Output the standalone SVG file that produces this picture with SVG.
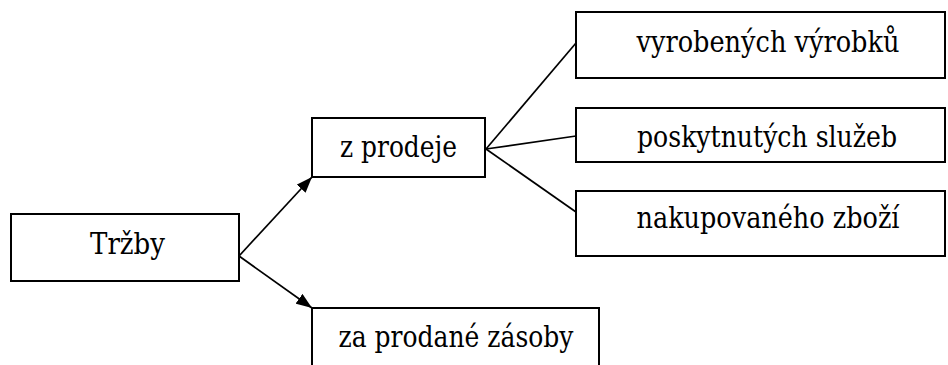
<svg xmlns="http://www.w3.org/2000/svg" width="948" height="365" viewBox="0 0 948 365">
<defs>
<style>
.box{fill:#fff;stroke:#000;stroke-width:2}
.lbl{font-family:'DejaVu Serif','Liberation Serif',serif;font-size:29px;fill:#000;text-anchor:middle}
.con{stroke:#000;stroke-width:1.7;fill:none}
</style>
<marker id="arr" viewBox="0 0 16 12" refX="16" refY="6" markerWidth="16" markerHeight="12" markerUnits="userSpaceOnUse" orient="auto">
<path d="M0,0 L16,6 L0,12 Z" fill="#000"/>
</marker>
</defs>
<rect width="948" height="365" fill="#fff"/>
<g id="connectors">
<line class="con" x1="239" y1="256" x2="312" y2="177" marker-end="url(#arr)"/>
<line class="con" x1="239" y1="256" x2="312" y2="308" marker-end="url(#arr)"/>
<line class="con" x1="486" y1="149" x2="576" y2="43"/>
<line class="con" x1="486" y1="149" x2="576" y2="136"/>
<line class="con" x1="486" y1="149" x2="576" y2="212"/>
</g>
<g id="trzby">
<rect class="box" x="11" y="214" width="228" height="67"/>
<text class="lbl" x="127.5" y="254" textLength="75" lengthAdjust="spacingAndGlyphs">Tržby</text>
</g>
<g id="z-prodeje">
<rect class="box" x="312" y="118" width="173" height="59"/>
<text class="lbl" x="398.5" y="157" textLength="117" lengthAdjust="spacingAndGlyphs">z prodeje</text>
</g>
<g id="za-prodane-zasoby">
<rect class="box" x="312" y="308" width="287" height="70"/>
<text class="lbl" x="456" y="347" textLength="235" lengthAdjust="spacingAndGlyphs">za prodané zásoby</text>
</g>
<g id="vyrobenych-vyrobku">
<rect class="box" x="576" y="12" width="369" height="66"/>
<text class="lbl" x="768" y="52" textLength="263" lengthAdjust="spacingAndGlyphs">vyrobených výrobků</text>
</g>
<g id="poskytnutych-sluzeb">
<rect class="box" x="576" y="108" width="369" height="54"/>
<text class="lbl" x="767" y="147" textLength="260" lengthAdjust="spacingAndGlyphs">poskytnutých služeb</text>
</g>
<g id="nakupovaneho-zbozi">
<rect class="box" x="576" y="191" width="369" height="65"/>
<text class="lbl" x="768" y="228" textLength="263" lengthAdjust="spacingAndGlyphs">nakupovaného zboží</text>
</g>
</svg>
